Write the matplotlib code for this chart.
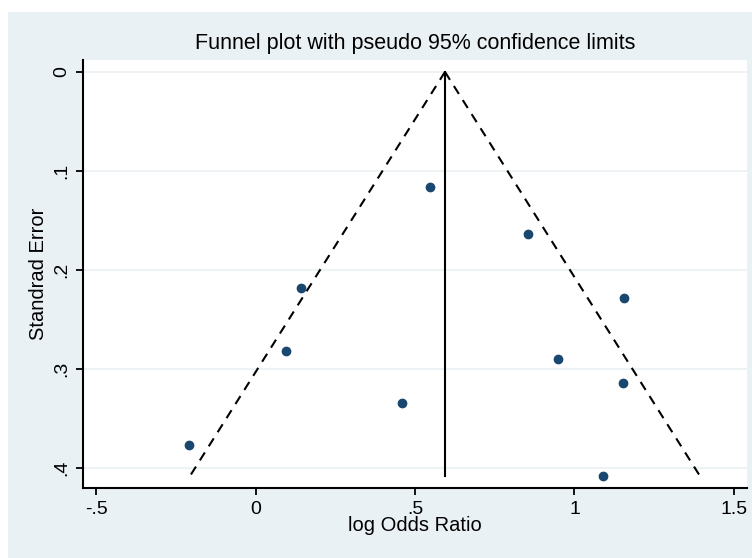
import numpy as np
import matplotlib
matplotlib.use("Agg")
import matplotlib.pyplot as plt
from matplotlib.patches import Rectangle

plt.rcParams['font.family'] = ['Liberation Sans', 'DejaVu Sans']

# study estimates
log_or = [-0.21, 0.094, 0.144, 0.46, 0.548, 0.855, 0.949, 1.089, 1.152, 1.155]
std_err = [0.377, 0.282, 0.218, 0.334, 0.116, 0.164, 0.290, 0.408, 0.314, 0.228]
pooled = 0.594
se_max = 0.408

bg = "#eaf1f4"
navy = "#1a476f"

fig = plt.figure(figsize=(7.52, 5.58), dpi=100)
fig.patch.set_facecolor("white")
fig.patches.append(Rectangle((8 / 752, 0), 1, 1 - 12 / 558, transform=fig.transFigure,
                             facecolor=bg, edgecolor="none", zorder=-10))

ax = fig.add_axes([83 / 752, 1 - 488 / 558, 664 / 752, 428 / 558])
ax.set_facecolor("white")

se = np.array([0, se_max])
ax.plot(pooled - 1.96 * se, se, color="black", lw=1.5, dashes=(4.5, 3.5))
ax.plot(pooled + 1.96 * se, se, color="black", lw=1.5, dashes=(4.5, 3.5))
ax.plot([pooled, pooled], se, color="black", lw=1.5)
ax.plot(log_or, std_err, "o", color=navy, markersize=6, zorder=3)

ax.set_xlim(-0.541, 1.541)
ax.set_ylim(0.42, -0.012)
ax.set_xticks([-0.5, 0, 0.5, 1, 1.5])
ax.set_xticklabels(["-.5", "0", ".5", "1", "1.5"])
ax.set_yticks([0, 0.1, 0.2, 0.3, 0.4])
ax.set_yticklabels(["0", ".1", ".2", ".3", ".4"], rotation=90, va="center")
ax.tick_params(labelsize=14, length=5, width=1.3, pad=4)
ax.grid(axis="y", color="#eaf1f4", lw=1.2)
ax.set_axisbelow(True)

for s in ["top", "right"]:
    ax.spines[s].set_visible(False)
for s in ["left", "bottom"]:
    ax.spines[s].set_linewidth(1.5)

ax.set_title("Funnel plot with pseudo 95% confidence limits", fontsize=15.5, pad=8)
ax.set_xlabel("log Odds Ratio", fontsize=14.5, labelpad=-1)
ax.set_ylabel("Standrad Error", fontsize=14.5, labelpad=4)

fig.savefig("out.png", dpi=100)
